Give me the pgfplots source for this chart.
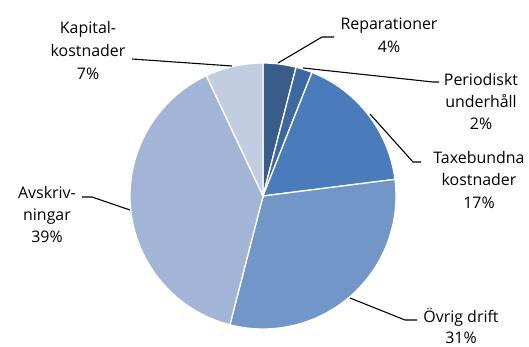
\documentclass[border=0pt]{standalone}
\usepackage{pgfplots}
\pgfplotsset{compat=1.18}
\usepackage{fontspec}
\setmainfont{Open Sans}
\definecolor{cRep}{HTML}{3A5C8A}
\definecolor{cPer}{HTML}{3E68A2}
\definecolor{cTax}{HTML}{4A7CBB}
\definecolor{cOvr}{HTML}{7396C9}
\definecolor{cAvs}{HTML}{A2B5D7}
\definecolor{cKap}{HTML}{C3CDE2}
% slice from cumulative percent #1 to #2, colour #3
\newcommand{\slice}[3]{\fill[#3, draw=white, line width=1.3pt] (axis cs:263,196) -- ++({90-3.6*(#1)}:133bp) arc[start angle={90-3.6*(#1)}, end angle={90-3.6*(#2)}, radius=133bp] -- cycle;}
\newcommand{\lbl}[3]{\node[anchor=base, inner sep=0pt, font=\fontsize{16}{22}\selectfont] at (axis cs:#1,#2) {#3};}
\begin{document}
\begin{tikzpicture}
\begin{axis}[width=529bp, height=347bp, scale only axis,
  xmin=0, xmax=529, ymin=0, ymax=347, y dir=reverse,
  hide axis, clip=false]
% percentages: Reparationer 4, Periodiskt underhall 2, Taxebundna 17, Ovrig drift 31, Avskrivningar 39, Kapitalkostnader 7
\slice{0}{4}{cRep}
\slice{4}{6}{cPer}
\slice{6}{23}{cTax}
\slice{23}{54}{cOvr}
\slice{54}{93}{cAvs}
\slice{93}{100}{cKap}
% leader lines
\draw[black, line width=1.1pt] (axis cs:278,63) -- (axis cs:322,37) -- (axis cs:334,37);
\draw[black, line width=1.1pt] (axis cs:303,68) -- (axis cs:433,82) -- (axis cs:439,82);
\draw[black, line width=1.1pt] (axis cs:370,114) -- (axis cs:413,162) -- (axis cs:421,162);
\draw[black, line width=1.1pt] (axis cs:350,298) -- (axis cs:405,320) -- (axis cs:417,320);
\draw[black, line width=1.1pt] (axis cs:130,210) -- (axis cs:92,197) -- (axis cs:82,197);
\draw[black, line width=1.1pt] (axis cs:232,66) -- (axis cs:132,59);
% labels
\lbl{389}{30}{Reparationer}
\lbl{389}{52}{4\%}
\lbl{481}{85}{Periodiskt}
\lbl{481}{107}{underhåll}
\lbl{481}{129}{2\%}
\lbl{479}{163}{Taxebundna}
\lbl{479}{185}{kostnader}
\lbl{479}{208}{17\%}
\lbl{461}{322}{Övrig drift}
\lbl{461}{343}{31\%}
\lbl{47}{198}{Avskriv-}
\lbl{47}{220}{ningar}
\lbl{47}{242}{39\%}
\lbl{88}{33}{Kapital-}
\lbl{88}{56}{kostnader}
\lbl{88}{79}{7\%}
\end{axis}
\pgfresetboundingbox
\useasboundingbox (0,0) rectangle (529bp,347bp);
\end{tikzpicture}
\end{document}
